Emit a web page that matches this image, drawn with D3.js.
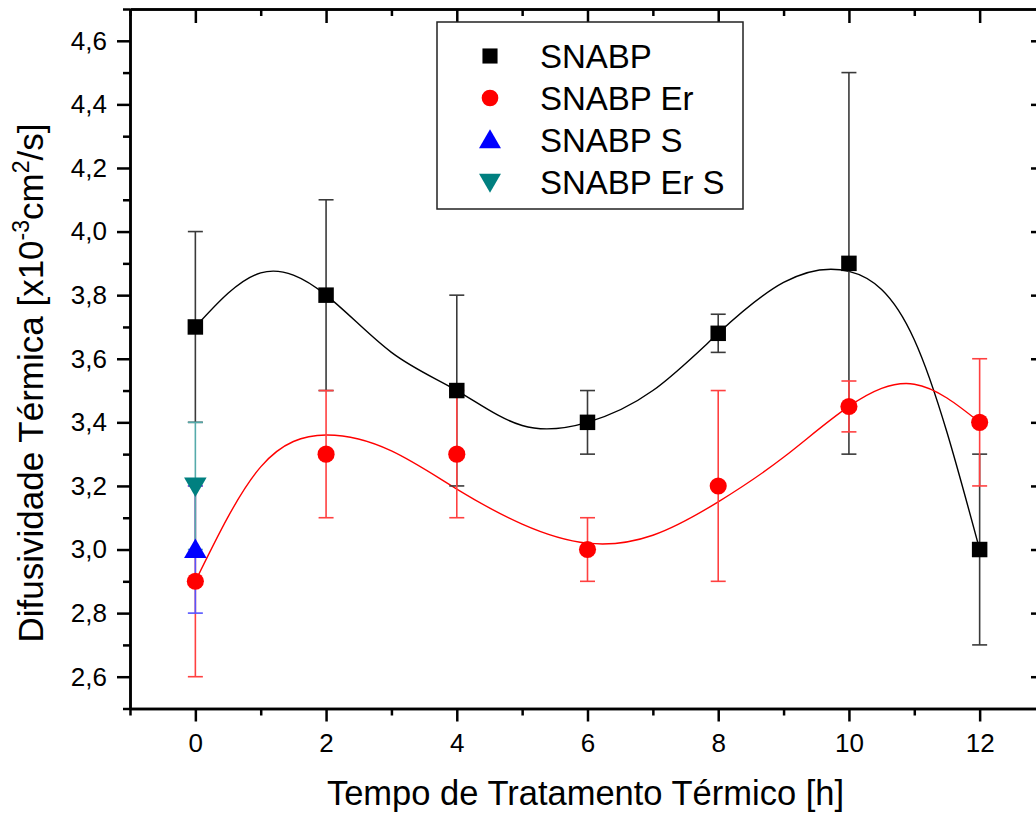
<!DOCTYPE html>
<html>
<head>
<meta charset="utf-8">
<script src="https://cdn.jsdelivr.net/npm/d3@7"></script>
<style>
	body { margin: 0; background: #fff; }
	svg { font-family: "Liberation Sans", Arial, sans-serif; display: block; }
	.axis path, .axis line { stroke: #000; stroke-width: 2.5; }
</style>
</head>
<body>
<svg id="chart" width="1036" height="813"></svg>
<script>
// data
var hours = [0, 2, 4, 6, 8, 10, 12];
var snabp = [3.7, 3.8, 3.5, 3.4, 3.68, 3.9, 3.0];
var snabpErr = [0.3, 0.3, 0.3, 0.1, 0.06, 0.6, 0.3];
var snabpEr = [2.9, 3.3, 3.3, 3.0, 3.2, 3.45, 3.4];
var snabpErErr = [0.3, 0.2, 0.2, 0.1, 0.3, 0.08, 0.2];
var snabpSHours = [0];
var snabpS = [3.0];
var snabpSErr = [0.2];
var snabpErSHours = [0];
var snabpErS = [3.2];
var snabpErSErr = [0.2];
// smoothed fit lines at each hour
var fitHours = [0, 1, 2, 3, 4, 5, 6, 7, 8, 9, 10, 11, 12];
var snabpFit = [3.7, 3.87, 3.8, 3.62, 3.5, 3.39, 3.4, 3.5, 3.68, 3.84, 3.875, 3.66, 3.0];
var snabpErFit = [2.9, 3.26, 3.36, 3.31, 3.19, 3.08, 3.02, 3.045, 3.15, 3.29, 3.45, 3.52, 3.4];
var xMajor = [0, 2, 4, 6, 8, 10, 12];
var xMinor = [-1, 1, 3, 5, 7, 9, 11, 13];
var yMajor = [2.6, 2.8, 3.0, 3.2, 3.4, 3.6, 3.8, 4.0, 4.2, 4.4, 4.6];
var yMinor = [2.5, 2.7, 2.9, 3.1, 3.3, 3.5, 3.7, 3.9, 4.1, 4.3, 4.5, 4.7];
var legendNames = ["SNABP", "SNABP Er", "SNABP S", "SNABP Er S"];

var svg = d3.select("#chart"),
	mLeft = 130, mRight = 1045, mTop = 9, mBottom = 708.5;

var x = d3.scaleLinear().domain([-1, 13]).range([mLeft, mRight]);
var y = d3.scaleLinear().domain([2.5, 4.7]).range([mBottom, mTop]);
var fmt = function(d) { return d3.format(".1f")(d).replace(".", ","); };

function pack(xs, ys, es) {
	return xs.map(function(h, i) { return { x: h, y: ys[i], e: es ? es[i] : 0 }; });
}
var series = [
	{ data: pack(hours, snabp, snabpErr), fit: pack(fitHours, snabpFit), color: "#000", bar: "#3a3a3a", shape: d3.symbolSquare, size: 240 },
	{ data: pack(hours, snabpEr, snabpErErr), fit: pack(fitHours, snabpErFit), color: "#ff0000", bar: "#ff4040", shape: d3.symbolCircle, size: 230 },
	{ data: pack(snabpSHours, snabpS, snabpSErr), color: "#0000ff", bar: "#5555ff", shape: d3.symbolTriangle, size: 220 },
	{ data: pack(snabpErSHours, snabpErS, snabpErSErr), color: "#008080", bar: "#55aaaa", shape: d3.symbolTriangle, size: 220, flip: true }
];

// axes
var g_ax = svg.append("g");
function addAxis(axis, tr) {
	var g = g_ax.append("g").attr("class", "axis")
		.attr("transform", tr)
		.call(axis);
	g.attr("font-size", 26).attr("font-family", "Liberation Sans, Arial, sans-serif");
	g.selectAll("text").attr("fill", "#000");
	return g;
}
addAxis(d3.axisLeft(y).tickValues(yMajor).tickSize(13).tickSizeOuter(0).tickPadding(10).tickFormat(fmt), "translate(" + mLeft + ",0)");
addAxis(d3.axisLeft(y).tickValues(yMinor).tickSize(7).tickSizeOuter(0).tickFormat(""), "translate(" + mLeft + ",0)");
addAxis(d3.axisBottom(x).tickValues(xMajor).tickSize(13).tickSizeOuter(0).tickPadding(12), "translate(0," + mBottom + ")");
addAxis(d3.axisBottom(x).tickValues(xMinor).tickSize(7).tickSizeOuter(0).tickFormat(""), "translate(0," + mBottom + ")");
addAxis(d3.axisTop(x).tickValues(xMajor).tickSize(-14).tickSizeOuter(0).tickFormat(""), "translate(0," + mTop + ")");
addAxis(d3.axisTop(x).tickValues(xMinor).tickSize(-7).tickSizeOuter(0).tickFormat(""), "translate(0," + mTop + ")");
addAxis(d3.axisRight(y).tickValues(yMajor).tickSize(-14).tickSizeOuter(0).tickFormat(""), "translate(" + mRight + ",0)");
addAxis(d3.axisRight(y).tickValues(yMinor).tickSize(-7).tickSizeOuter(0).tickFormat(""), "translate(" + mRight + ",0)");

// fitted curves
var line = d3.line()
	.x(function(d) { return x(d.x); })
	.y(function(d) { return y(d.y); })
	.curve(d3.curveNatural);
series.forEach(function(s) {
	if (!s.fit) return;
	svg.append("path")
		.datum(s.fit)
		.attr("fill", "none")
		.attr("stroke", s.color)
		.attr("stroke-width", 1.4)
		.attr("d", line);
});

// error bars
series.forEach(function(s) {
	var g = svg.append("g").attr("stroke", s.bar).attr("stroke-width", 1.6);
	s.data.forEach(function(d) {
		g.append("line").attr("x1", x(d.x)).attr("x2", x(d.x))
			.attr("y1", y(d.y - d.e)).attr("y2", y(d.y + d.e));
		[d.y - d.e, d.y + d.e].forEach(function(v) {
			g.append("line").attr("x1", x(d.x) - 7.5).attr("x2", x(d.x) + 7.5)
				.attr("y1", y(v)).attr("y2", y(v));
		});
	});
});

// markers
function symTransform(s, px, py) {
	var off = s.shape === d3.symbolTriangle ? (s.flip ? -2 : 2) : 0;
	return "translate(" + px + "," + (py + off) + ")" + (s.flip ? " rotate(180)" : "");
}
series.forEach(function(s) {
	svg.append("g").selectAll("path")
		.data(s.data).enter()
		.append("path")
		.attr("d", d3.symbol().type(s.shape).size(s.size))
		.attr("fill", s.color)
		.attr("transform", function(d) { return symTransform(s, x(d.x), y(d.y)); });
});

// legend
var leg = svg.append("g");
leg.append("rect")
	.attr("x", 437).attr("y", 22).attr("width", 306).attr("height", 187)
	.attr("fill", "#fff").attr("stroke", "#222").attr("stroke-width", 1.5);
var rowY = d3.scalePoint().domain(legendNames).range([56, 182]);
legendNames.forEach(function(name, i) {
	var s = series[i];
	leg.append("path")
		.attr("d", d3.symbol().type(s.shape).size(s.size * 0.95))
		.attr("fill", s.color)
		.attr("transform", symTransform(s, 490, rowY(name)));
	leg.append("text")
		.attr("x", 540).attr("y", rowY(name))
		.attr("dy", "0.36em")
		.attr("font-size", 33)
		.text(name);
});

// axis titles
svg.append("text")
	.attr("x", (mLeft + mRight) / 2 - 2).attr("y", 805)
	.attr("text-anchor", "middle")
	.attr("font-size", 34.5)
	.text("Tempo de Tratamento Térmico [h]");
var yt = svg.append("text")
	.attr("transform", "translate(43,383) rotate(-90)")
	.attr("text-anchor", "middle")
	.attr("font-size", 35);
yt.append("tspan").text("Difusividade Térmica [x10");
yt.append("tspan").attr("font-size", 23).attr("dy", -14).text("-3");
yt.append("tspan").attr("dy", 14).text("cm");
yt.append("tspan").attr("font-size", 23).attr("dy", -14).text("2");
yt.append("tspan").attr("dy", 14).text("/s]");
</script>
</body>
</html>
